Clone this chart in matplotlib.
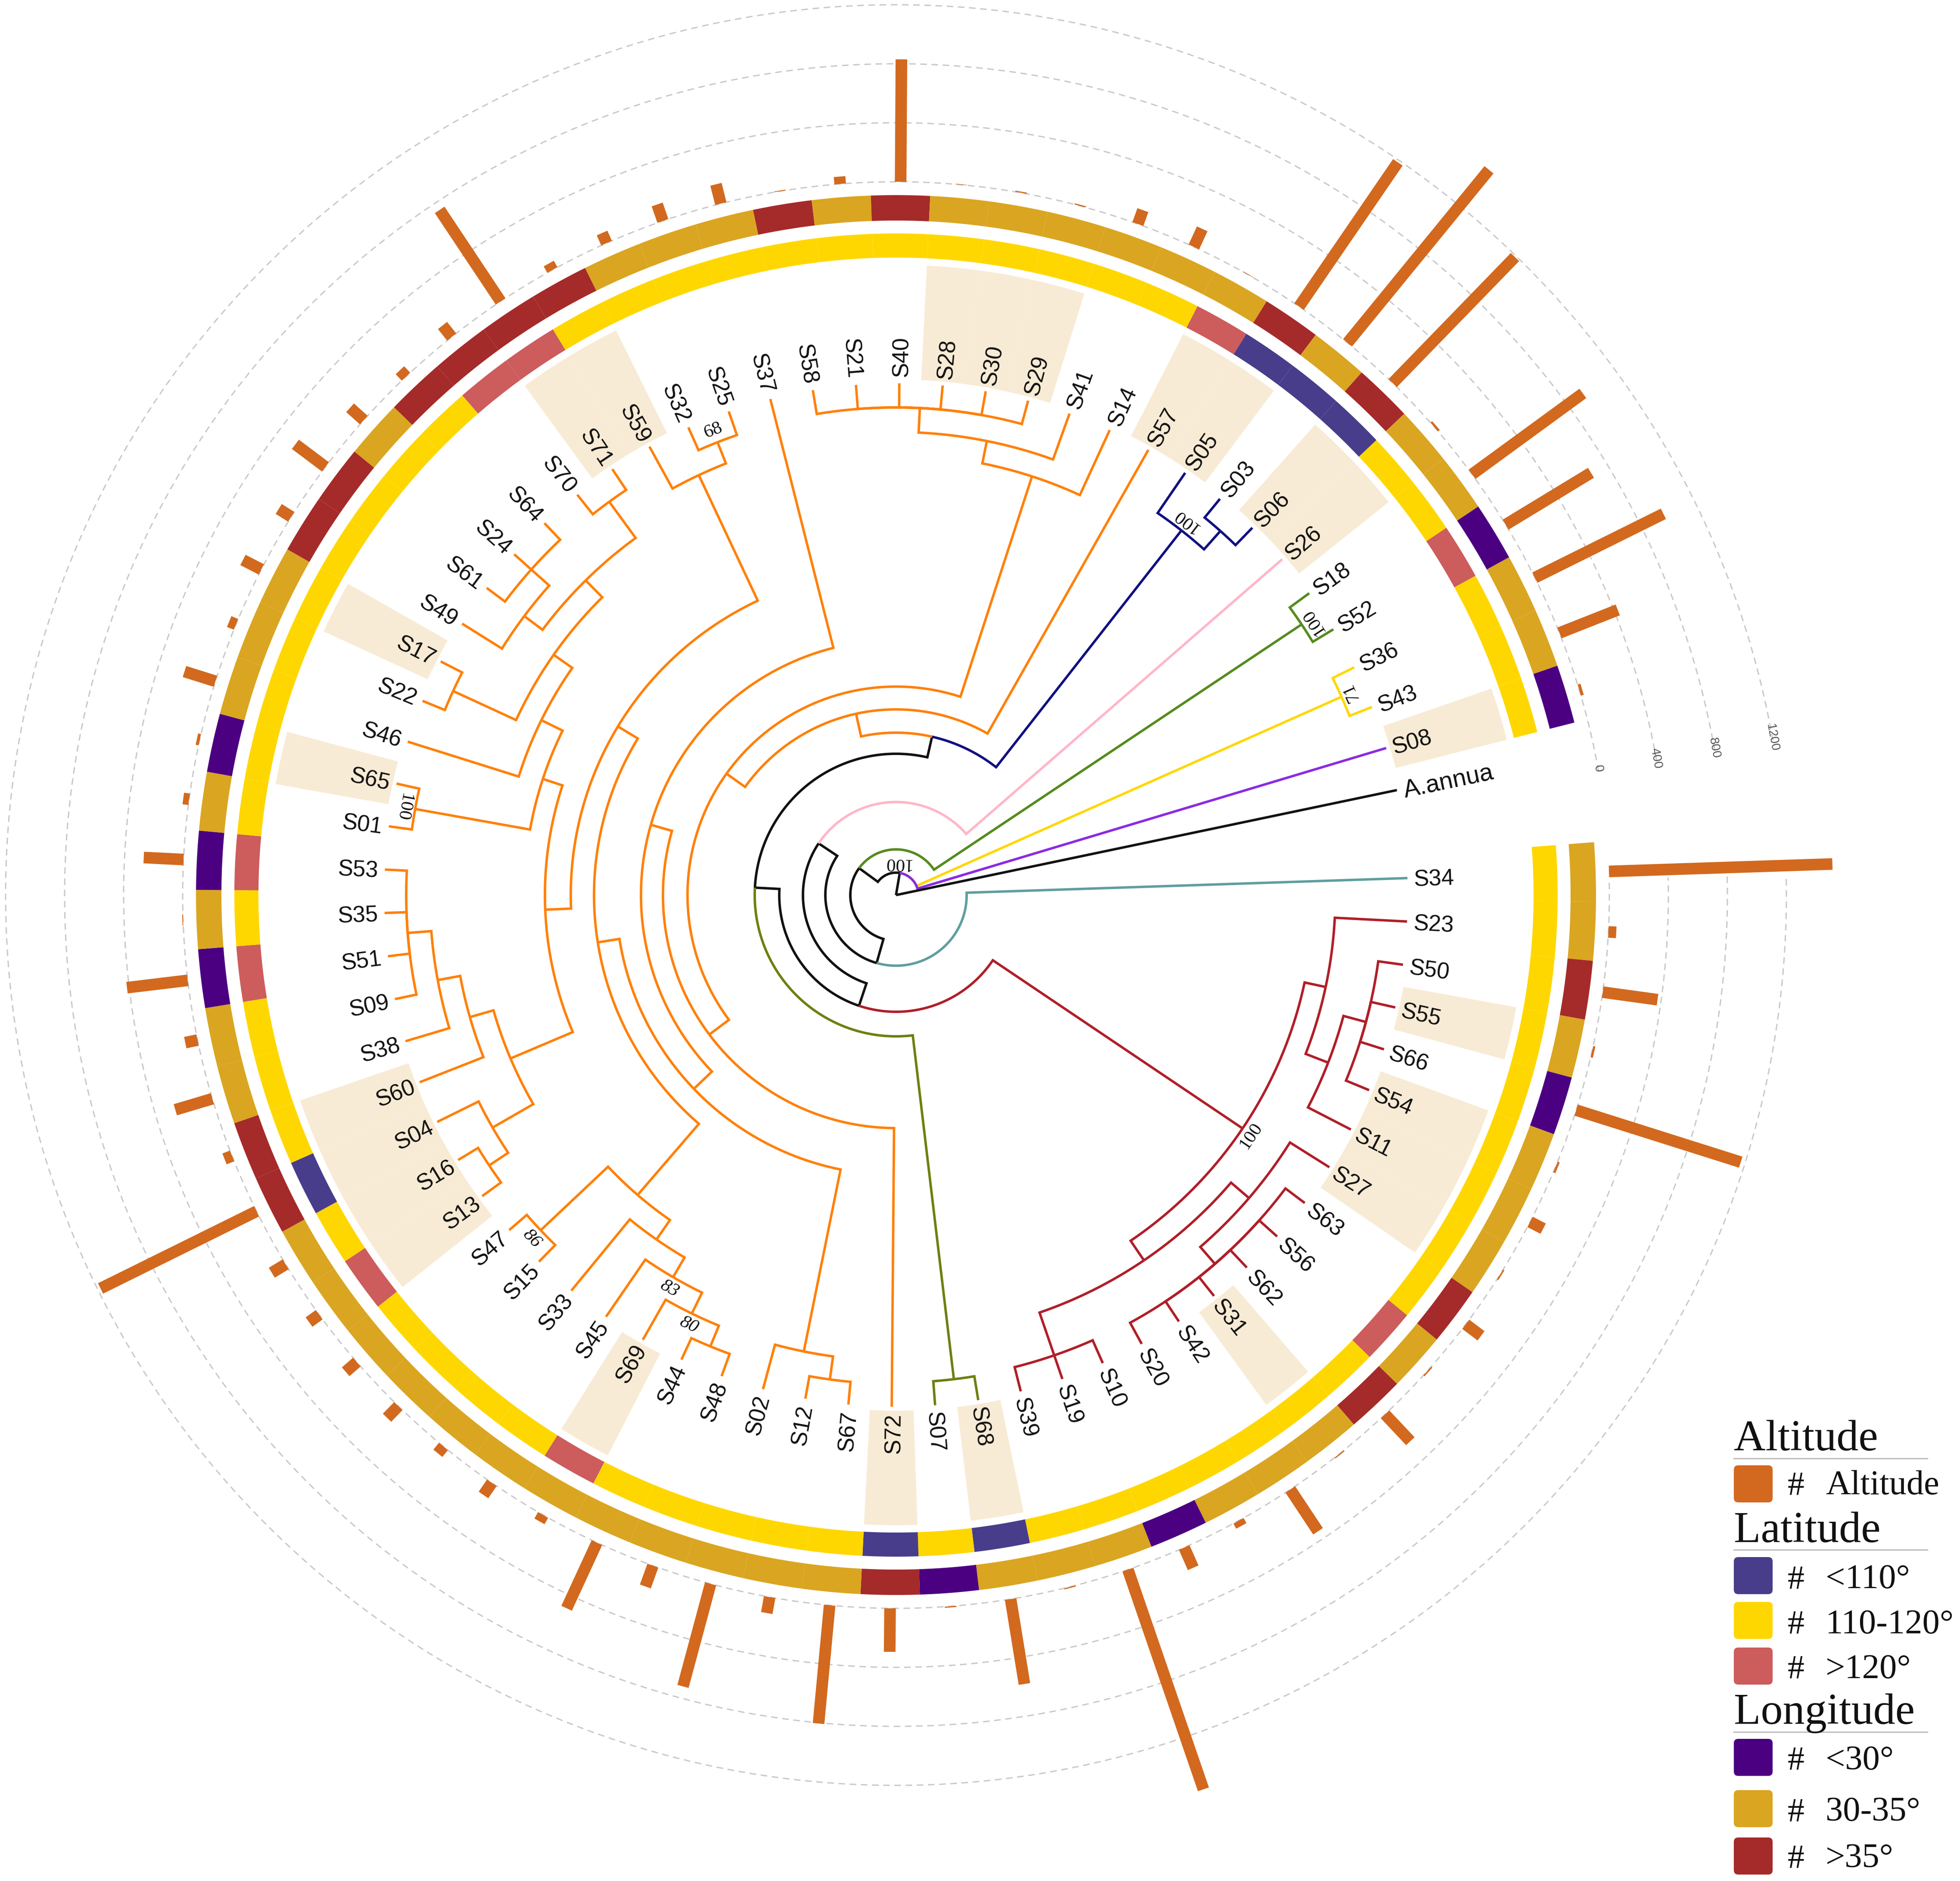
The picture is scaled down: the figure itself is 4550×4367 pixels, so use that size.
#!/usr/bin/env python3
# circular tree with latitude / longitude rings and altitude bars
import numpy as np
import matplotlib
matplotlib.use("Agg")
import matplotlib.pyplot as plt
from matplotlib.patches import Polygon, FancyBboxPatch

SANS = "Liberation Sans"
SERIF = "Liberation Serif"

# samples, clockwise from the gap (A.annua has no ring data)
SAMPLES = ["S34", "S23", "S50", "S55", "S66", "S54", "S11", "S27", "S63", "S56",
           "S62", "S31", "S42", "S20", "S10", "S19", "S39", "S68", "S07", "S72",
           "S67", "S12", "S02", "S48", "S44", "S69", "S45", "S33", "S15", "S47",
           "S13", "S16", "S04", "S60", "S38", "S09", "S51", "S35", "S53", "S01",
           "S65", "S46", "S22", "S17", "S49", "S61", "S24", "S64", "S70", "S71",
           "S59", "S32", "S25", "S37", "S58", "S21", "S40", "S28", "S30", "S29",
           "S41", "S14", "S57", "S05", "S03", "S06", "S26", "S18", "S52", "S36",
           "S43", "S08", "A.annua"]

# B <110, Y 110-120, R >120
LAT_GROUP = ("YYYYYYYYYR" "YYYYYYYBYB" "YYYYYRYYYY" "RYBYYYRYRY" "YYYYYYYYRR"
             "YYYYYYYYYY" "YYRBBBYYRY" "YY")
# P <30, G 30-35, D >35
LON_GROUP = ("GGDGPGGGDG" "DGGGPGGGPD" "GGGGGGGGGG" "GGDDGGPGPG" "PGGGDDGDDD"
             "DGGGDGDGGG" "GGGDGDGGPG" "GP")

ALTITUDE = [1515, 53, 375, 15, 1170, 15, 100, 10, 130, 10,
            250, 8, 340, 40, 150, 1575, 8, 583, 8, 295,
            805, 110, 720, 150, 490, 50, 100, 60, 110, 100,
            85, 110, 1180, 55, 262, 85, 415, 5, 270, 40,
            20, 220, 50, 140, 100, 255, 125, 60, 100, 745,
            50, 75, 118, 135, 5, 50, 830, 3, 8, 8,
            100, 135, 3, 1185, 1515, 1190, 15, 930, 677, 973,
            425, 20]

HIGHLIGHTED = ["S55", "S54", "S11", "S27", "S31", "S68", "S72", "S69", "S13", "S16",
               "S04", "S60", "S65", "S17", "S71", "S59", "S28", "S30", "S29", "S57",
               "S05", "S06", "S26", "S08"]

GRID_VALUES = [0, 400, 800, 1200]

BLACK = "#111111"
ORANGE = "#FF8008"
NAVY = "#101080"
PINK = "#FFB6C8"
GREEN = "#558B1E"
YELLOW = "#FFD700"
PURPLE = "#8A2BE2"
TEAL = "#5F9EA0"
RED = "#B01E28"
OLIVE = "#6E7F10"

# node = (depth, colour or None to inherit, children); leaf = name or (name, colour)
RED_CLADE = (970, RED, [
    (1020, None, ["S23", (1076, None, [(1130, None, ["S50", "S55", "S66", "S54"]), "S11"])]),
    (1025, None, [
        (1080, None, ["S27", (1132, None, ["S63", "S56", "S62", "S31", "S42", "S20"])]),
        (1130, None, ["S10", "S19", "S39"]),
    ]),
])

LOWER_ORANGE = (919, None, [
    (1134, None, ["S47", "S15"]),
    (974, None, ["S33", (1027, None, ["S45", (1081, None, ["S69", (1133, None, ["S44", "S48"])])])]),
])

LEFT_ORANGE = (815, None, [
    (972, None, [
        (1029, None, ["S60", (1082, None, ["S38", (1137, None, ["S09", "S51", "S35", "S53"])])]),
        (1081, None, ["S04", (1134, None, ["S16", "S13"])]),
    ]),
    (863, None, [
        (1134, None, ["S65", "S01"]),
        (918, None, ["S46", (971, None, [
            (1132, None, ["S17", "S22"]),
            (1026, None, [
                (1079, None, ["S49", (1135, None, ["S61", "S24", "S64"])]),
                (1130, None, ["S70", "S71"]),
            ]),
        ])]),
    ]),
])

ORANGE_CLADE = (431, ORANGE, [
    "S57",
    (484, None, [
        (1022, None, ["S14", (1075, None, [
            (1132, None, ["S58", "S21", "S40", "S28", "S30", "S29"]), "S41"])]),
        (541, None, [
            "S72",
            (592, None, [
                "S37",
                (650, None, [
                    (1081, None, ["S02", (1135, None, ["S12", "S67"])]),
                    (701, None, [
                        LOWER_ORANGE,
                        (755, None, [
                            (1077, None, ["S59", (1130, None, ["S32", "S25"])]),
                            LEFT_ORANGE,
                        ]),
                    ]),
                ]),
            ]),
        ]),
    ]),
])

TREE = (0, BLACK, [
    (52, BLACK, [
        (1132, YELLOW, ["S36", "S43"]),
        ("S08", PURPLE),
        (106, BLACK, [
            (1132, GREEN, ["S18", "S52"]),
            (164, BLACK, [
                ("S34", TEAL),
                (216, BLACK, [
                    ("S26", PINK),
                    (271, BLACK, [
                        RED_CLADE,
                        (328, BLACK, [
                            (1132, OLIVE, ["S68", "S07"]),
                            (377, BLACK, [
                                (1075, NAVY, ["S05", (1132, None, ["S03", "S06"])]),
                                ORANGE_CLADE,
                            ]),
                        ]),
                    ]),
                ]),
            ]),
        ]),
    ]),
    ("A.annua", BLACK),
])

# bootstrap labels: text, slot, depth, italic
SUPPORT_TEXT = ["100", "100", "100", "71", "100", "86", "68", "83", "80", "100"]
SUPPORT_SLOT = [56.3, 63.7, 67.6, 69.5, 39.5, 28.5, 51.5, 25.06, 24.2, 7.42]
SUPPORT_DEPTH = [74, 1099, 1158, 1156, 1162, 1163, 1159, 1055, 1108, 996]
SUPPORT_ITALIC = [False, False, False, False, False, True, False, True, True, False]

LAT_COLORS = {"B": "#483D8B", "Y": "#FFD700", "R": "#CD5C5C"}
LON_COLORS = {"P": "#4B0082", "G": "#DAA520", "D": "#A52A2A"}
BAR_COLOR = "#D2691E"
HIGHLIGHT_COLOR = "#F8EBD5"
GRID_COLOR = "#c9c9c9"

CX, CY = 2080, 2078
START = 1.9
STEP = 4.862
TIP_R = 1188
LABEL_R = 1203
HL_R = (1197, 1463)
LAT_R = (1480, 1536)
LON_R = (1566, 1625)
BAR_R = 1656
BAR_SCALE = 137 / 400.

slot_of = {name: i for i, name in enumerate(SAMPLES)}


def slot_angle(s):
    return START - STEP * s


def pol(r, a):
    a = np.radians(a)
    return CX + r * np.cos(a), CY - r * np.sin(a)


def wedge(ax, slot, r0, r1, color, z=1):
    a = np.linspace(slot_angle(slot - .5), slot_angle(slot + .5), 12)
    xo, yo = pol(r1, a)
    xi, yi = pol(r0, a[::-1])
    pts = np.column_stack([np.r_[xo, xi], np.r_[yo, yi]])
    ax.add_patch(Polygon(pts, closed=True, fc=color, ec="none", zorder=z))


def node_slot(node):
    if isinstance(node, str):
        return slot_of[node]
    if isinstance(node[0], str):
        return slot_of[node[0]]
    s = [node_slot(c) for c in node[2]]
    return (min(s) + max(s)) / 2.


def draw_branch(ax, r_parent, s_parent, r_child, s_child, color):
    n = max(2, int(abs(s_child - s_parent) * STEP) + 2)
    a = slot_angle(np.linspace(s_parent, s_child, n))
    x, y = pol(r_parent, a)
    x2, y2 = pol(r_child, slot_angle(s_child))
    ax.plot(np.r_[x, x2], np.r_[y, y2], color=color, lw=4.1,
            solid_joinstyle="miter", solid_capstyle="butt", zorder=3)


def draw_tree(ax, node, color=None):
    r, c, children = node
    c = c or color
    s = node_slot(node)
    for child in children:
        if isinstance(child, str):
            draw_branch(ax, r, s, TIP_R, slot_of[child], c)
        elif isinstance(child[0], str):
            draw_branch(ax, r, s, TIP_R, slot_of[child[0]], child[1])
        else:
            cc = child[1] or c
            draw_branch(ax, r, s, child[0], node_slot(child), cc)
            draw_tree(ax, child, c)


fig = plt.figure(figsize=(45.5, 43.67), dpi=100)
ax = fig.add_axes([0, 0, 1, 1])
ax.set_xlim(0, 4550)
ax.set_ylim(4367, 0)
ax.axis("off")

# dashed scale circles, open at the gap
for v in GRID_VALUES:
    r = BAR_R + v * BAR_SCALE
    a = np.linspace(10, 361.3, 1500)
    x, y = pol(r, a)
    ax.plot(x, y, color=GRID_COLOR, lw=2.2, ls=(0, (5, 3.5)), zorder=1)
    tx, ty = pol(r, 10.2)
    ax.text(tx, ty, str(v), family=SANS, fontsize=21, color="#555555",
            rotation=10.2 - 90, ha="center", va="center", rotation_mode="anchor")

for name in HIGHLIGHTED:
    wedge(ax, slot_of[name], HL_R[0], HL_R[1], HIGHLIGHT_COLOR)

for i in range(len(LAT_GROUP)):
    wedge(ax, i, LAT_R[0], LAT_R[1], LAT_COLORS[LAT_GROUP[i]], 2)
    wedge(ax, i, LON_R[0], LON_R[1], LON_COLORS[LON_GROUP[i]], 2)

for i, v in enumerate(ALTITUDE):
    a = slot_angle(i)
    x, y = pol(np.array([BAR_R, BAR_R + v * BAR_SCALE]), a)
    ax.plot(x, y, color=BAR_COLOR, lw=19.4, solid_capstyle="butt", zorder=2)

draw_tree(ax, TREE)

for i, name in enumerate(SAMPLES):
    a = slot_angle(i) % 360
    x, y = pol(LABEL_R, a)
    if 90 < a < 270:
        rot, ha = a - 180, "right"
    else:
        rot, ha = (a if a <= 90 else a - 360), "left"
    fs = 41 if name == "A.annua" else 38
    ax.text(x, y, name, family=SANS, fontsize=fs, color="#111111", rotation=rot,
            ha=ha, va="center_baseline", rotation_mode="anchor", zorder=5)

for t, s, d, it in zip(SUPPORT_TEXT, SUPPORT_SLOT, SUPPORT_DEPTH, SUPPORT_ITALIC):
    a = slot_angle(s)
    x, y = pol(d, a)
    rot = (a + 90) % 360
    if t == "68":
        rot -= 180
    ax.text(x, y, t, family=SERIF, fontsize=31, color="#111111", rotation=rot,
            style="italic" if it else "normal", ha="center", va="center",
            rotation_mode="anchor", zorder=5)

# legend
LEG_X = 4025
LEG_TITLES = ["Altitude", "Latitude", "Longitude"]
LEG_TITLE_Y = [3367, 3580, 4002]
LEG_RULE_Y = [3386, 3598, 4021]
for t, ty, ry in zip(LEG_TITLES, LEG_TITLE_Y, LEG_RULE_Y):
    ax.text(LEG_X, ty, t, family=SERIF, fontsize=73.5, color="#111111", ha="left", va="baseline")
    ax.plot([LEG_X, 4474], [ry, ry], color="#c0c0c0", lw=2.4)

ENTRY_TEXT = ["Altitude", "<110°", "110-120°", ">120°", "<30°", "30-35°", ">35°"]
ENTRY_COLOR = [BAR_COLOR, LAT_COLORS["B"], LAT_COLORS["Y"], LAT_COLORS["R"],
               LON_COLORS["P"], LON_COLORS["G"], LON_COLORS["D"]]
ENTRY_TOP = [3402, 3615, 3719, 3825, 4037, 4156, 4266]
ENTRY_BASE = [3469, 3687, 3792, 3896, 4108, 4227, 4335]
for t, c, top, base in zip(ENTRY_TEXT, ENTRY_COLOR, ENTRY_TOP, ENTRY_BASE):
    ax.add_patch(FancyBboxPatch((LEG_X + 8, top + 8), 74, 70, boxstyle="round,pad=8,rounding_size=10",
                                fc=c, ec="none"))
    ax.text(4150, base, "#", family=SERIF, fontsize=56, color="#111111", ha="left", va="baseline")
    ax.text(4238, base, t, family=SERIF, fontsize=58, color="#111111", ha="left", va="baseline")

fig.savefig("out.png", dpi=100, facecolor="white")
